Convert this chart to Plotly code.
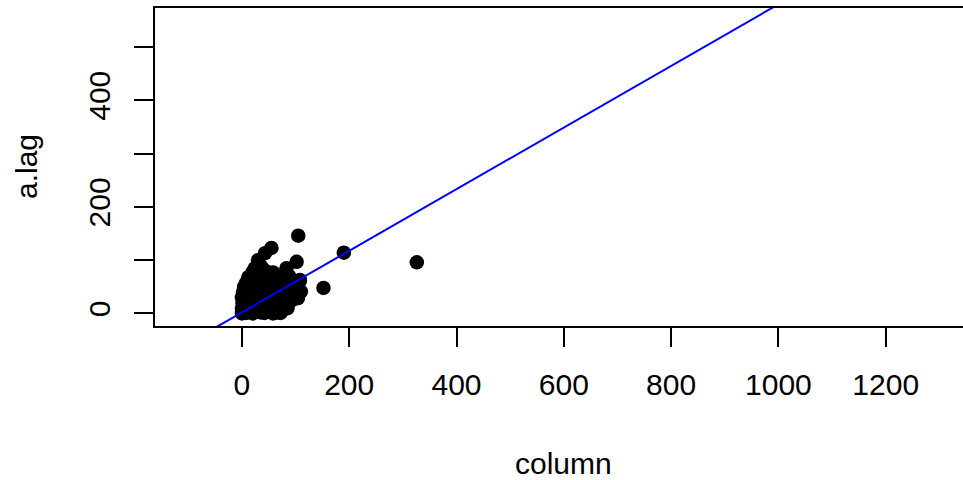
import plotly.graph_objects as go

# ---- data ----
col_x = [
    0, 3, 8, 14, 20, 27, 35, 42, 50, 58, 65, 72,
    0, 5, 12, 18, 25, 33, 40, 48, 55, 63, 70, 78, 85,
    1, 7, 14, 21, 28, 36, 44, 52, 60, 68, 76, 84, 92,
    0, 6, 13, 20, 27, 34, 42, 50, 58, 66, 74, 82, 90, 98, 104,
    2, 8, 15, 22, 30, 38, 46, 54, 62, 70, 78, 86, 94, 102, 110,
    4, 10, 17, 24, 32, 40, 48, 56, 64, 72, 80, 88, 96, 105,
    8, 14, 20, 27, 35, 43, 51, 60, 68, 76, 84, 92, 100, 108,
    12, 18, 25, 32, 40, 48, 56, 65, 75, 88,
    20, 26, 33, 45, 58,
    30, 24, 43, 55, 105, 102, 83, 190, 326, 152, 108, 104, 72, 36, 30,
]
lag_y = [
    0, 2, 1, 3, 0, 4, 2, 1, 3, 0, 2, 1,
    10, 12, 8, 11, 9, 13, 10, 12, 8, 11, 9, 12, 10,
    20, 22, 18, 21, 19, 23, 20, 22, 18, 21, 19, 22, 24,
    30, 32, 28, 31, 29, 33, 30, 32, 28, 31, 29, 32, 30, 28, 29,
    40, 42, 38, 41, 39, 43, 40, 42, 38, 41, 39, 42, 40, 43, 41,
    50, 47, 52, 49, 51, 48, 50, 53, 49, 51, 48, 52, 50, 54,
    58, 62, 60, 63, 59, 61, 64, 60, 62, 59, 61, 63, 60, 62,
    68, 72, 70, 74, 69, 71, 73, 70, 68, 70,
    78, 82, 80, 79, 77,
    91, 85, 113, 123, 146, 97, 85, 114, 96, 48, 63, 29, 2, 88, 100,
]
fit_intercept = 2.0
fit_slope = 0.578

x_ticks = [0, 200, 400, 600, 800, 1000, 1200]
y_ticks = [0, 100, 200, 300, 400, 500]
y_ticktext = ["0", "", "200", "", "400", ""]

x_range = [-162, 1344]
y_range = [-23.5, 573]

FONT = "Liberation Sans, Arial, sans-serif"

line_x = [x_range[0] - 50, x_range[1] + 50]
line_y = [fit_intercept + fit_slope * v for v in line_x]

fig = go.Figure()
fig.add_trace(go.Scatter(
    x=col_x, y=lag_y, mode="markers",
    marker=dict(color="black", size=14.5, line=dict(width=0)),
    showlegend=False, hoverinfo="x+y",
))
fig.add_trace(go.Scatter(
    x=line_x, y=line_y, mode="lines",
    line=dict(color="#0000ff", width=2),
    showlegend=False, hoverinfo="skip",
))

fig.update_layout(
    width=963, height=480,
    margin=dict(l=155, r=0, t=8, b=154),
    paper_bgcolor="white", plot_bgcolor="white",
    font=dict(family=FONT, size=30, color="black"),
    xaxis=dict(
        range=x_range, tickvals=x_ticks, ticktext=[str(v) for v in x_ticks],
        showgrid=False, zeroline=False,
        showline=True, linecolor="black", linewidth=1.5, mirror=True,
        ticks="outside", ticklen=19, tickwidth=1.5, tickcolor="black",
        ticklabelstandoff=12,
        tickfont=dict(family=FONT, size=30, color="black"),
    ),
    yaxis=dict(
        range=y_range, tickvals=y_ticks, ticktext=y_ticktext,
        showgrid=False, zeroline=False,
        showline=True, linecolor="black", linewidth=1.5,
        ticks="outside", ticklen=19, tickwidth=1.5, tickcolor="black",
        tickangle=-90, ticklabelstandoff=12,
        tickfont=dict(family=FONT, size=30, color="black"),
    ),
    annotations=[
        dict(text="column", xref="paper", yref="paper",
             x=0.506, y=(326 - 463) / 318, xanchor="center", yanchor="middle",
             showarrow=False, font=dict(family=FONT, size=30, color="black")),
        dict(text="a.lag", xref="paper", yref="paper",
             x=(26 - 155) / 808, y=0.5, xanchor="center", yanchor="middle",
             textangle=-90, showarrow=False,
             font=dict(family=FONT, size=30, color="black")),
    ],
)

fig.write_html("out.html")
